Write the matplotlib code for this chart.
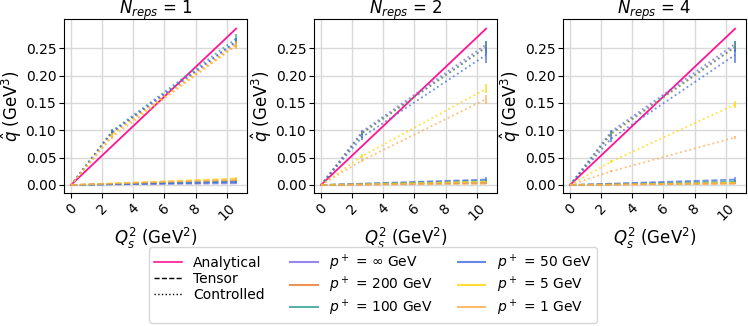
import matplotlib
matplotlib.use("Agg")
import matplotlib.pyplot as plt
import numpy as np
from matplotlib.lines import Line2D

x = [0.0, 2.65, 10.6]
analytical = [0.0, 0.0715, 0.286]

labels = [r"$p^+$ = $\infty$ GeV", r"$p^+$ = 200 GeV", r"$p^+$ = 100 GeV",
          r"$p^+$ = 50 GeV", r"$p^+$ = 5 GeV", r"$p^+$ = 1 GeV"]
colors = ["#7B68EE", "#E8782E", "#2E9E96", "#4169E1", "#FFD700", "#FFA94D"]
nreps = [1, 2, 4]

# controlled values [panel][series] at x points
controlled = [
    [[0, 0.097, 0.262], [0, 0.094, 0.258], [0, 0.099, 0.268],
     [0, 0.097, 0.263], [0, 0.092, 0.256], [0, 0.088, 0.255]],
    [[0, 0.098, 0.257], [0, 0.095, 0.252], [0, 0.095, 0.252],
     [0, 0.088, 0.238], [0, 0.053, 0.176], [0, 0.045, 0.157]],
    [[0, 0.098, 0.258], [0, 0.093, 0.252], [0, 0.095, 0.253],
     [0, 0.085, 0.238], [0, 0.043, 0.147], [0, 0.025, 0.087]],
]
controlled_err = [
    [[0, 0.003, 0.006], [0, 0.003, 0.006], [0, 0.004, 0.008],
     [0, 0.003, 0.006], [0, 0.004, 0.007], [0, 0.004, 0.007]],
    [[0, 0.003, 0.006], [0, 0.003, 0.007], [0, 0.004, 0.012],
     [0, 0.005, 0.014], [0, 0.003, 0.008], [0, 0.003, 0.008]],
    [[0, 0.003, 0.006], [0, 0.003, 0.007], [0, 0.004, 0.010],
     [0, 0.006, 0.015], [0, 0.002, 0.007], [0, 0.002, 0.003]],
]
tensor = [
    [[0, 0.001, 0.003], [0, 0.002, 0.008], [0, 0.0015, 0.006],
     [0, 0.0012, 0.005], [0, 0.003, 0.012], [0, 0.0025, 0.010]],
    [[0, 0.001, 0.004], [0, 0.001, 0.004], [0, 0.002, 0.008],
     [0, 0.0025, 0.010], [0, 0.0015, 0.006], [0, 0.0005, 0.002]],
    [[0, 0.001, 0.004], [0, 0.0008, 0.003], [0, 0.0018, 0.007],
     [0, 0.0025, 0.010], [0, 0.001, 0.004], [0, 0.0005, 0.002]],
]
tensor_err = [
    [[0, 0.0005, 0.002], [0, 0.0005, 0.002], [0, 0.0005, 0.002],
     [0, 0.0005, 0.002], [0, 0.0008, 0.003], [0, 0.0008, 0.003]],
    [[0, 0.0005, 0.002], [0, 0.0005, 0.002], [0, 0.0005, 0.003],
     [0, 0.0008, 0.004], [0, 0.0005, 0.002], [0, 0.0003, 0.001]],
    [[0, 0.0005, 0.002], [0, 0.0005, 0.002], [0, 0.0005, 0.003],
     [0, 0.0008, 0.005], [0, 0.0005, 0.002], [0, 0.0003, 0.001]],
]

fig = plt.figure(figsize=(7.48, 3.26), dpi=100)
W, H = 748.0, 326.0
lefts = [64, 314, 563]
aw = 183
top, bottom = 19, 193
axh = bottom - top
axes = []
for i, l in enumerate(lefts):
    ax = fig.add_axes([l / W, 1 - bottom / H, aw / W, axh / H])
    axes.append(ax)
    ax.grid(True, color="#d9d9d9", linewidth=1)
    ax.set_axisbelow(True)
    for j in range(6):
        ax.errorbar(x, tensor[i][j], yerr=tensor_err[i][j], color=colors[j],
                    linestyle="--", linewidth=1.2, alpha=0.7)
        ax.errorbar(x, controlled[i][j], yerr=controlled_err[i][j], color=colors[j],
                    linestyle=":", linewidth=1.3, alpha=0.75)
    ax.plot(x, analytical, color="#FF1493", linewidth=1.3)
    ax.set_xlim(-0.45, 11.3)
    ax.set_ylim(-0.0147, 0.3037)
    ax.set_xticks([0, 2, 4, 6, 8, 10])
    ax.set_yticks([0.0, 0.05, 0.10, 0.15, 0.20, 0.25])
    ax.set_yticklabels(["0.00", "0.05", "0.10", "0.15", "0.20", "0.25"])
    ax.tick_params(axis="x", labelrotation=45, labelsize=10, pad=2)
    ax.tick_params(axis="y", labelsize=10, pad=2)
    ax.text(0.5, 1 + 4.5 / axh, r"$N_{reps}$ = %d" % nreps[i], fontsize=12,
            ha="center", va="baseline", transform=ax.transAxes)
    ax.set_xlabel(r"$Q_s^2$ (GeV$^2$)", fontsize=12, labelpad=2)
    ax.set_ylabel(r"$\hat{q}$ (GeV$^3$)", fontsize=12, labelpad=1)

handles = [Line2D([], [], color="#FF1493", linewidth=1.2),
           Line2D([], [], color="black", linestyle="--", linewidth=1),
           Line2D([], [], color="black", linestyle=":", linewidth=1)]
hl = ["Analytical", "Tensor", "Controlled"]
for j in range(6):
    handles.append(Line2D([], [], color=colors[j], linewidth=1.5, alpha=0.8))
    hl.append(labels[j])
fig.legend(handles, hl, ncol=3, loc="center", bbox_to_anchor=(373 / W, 1 - 285 / H),
           fontsize=10, frameon=True, handlelength=2, columnspacing=1.8,
           labelspacing=0.15, borderpad=0.4)

fig.savefig("out.png", dpi=100)
